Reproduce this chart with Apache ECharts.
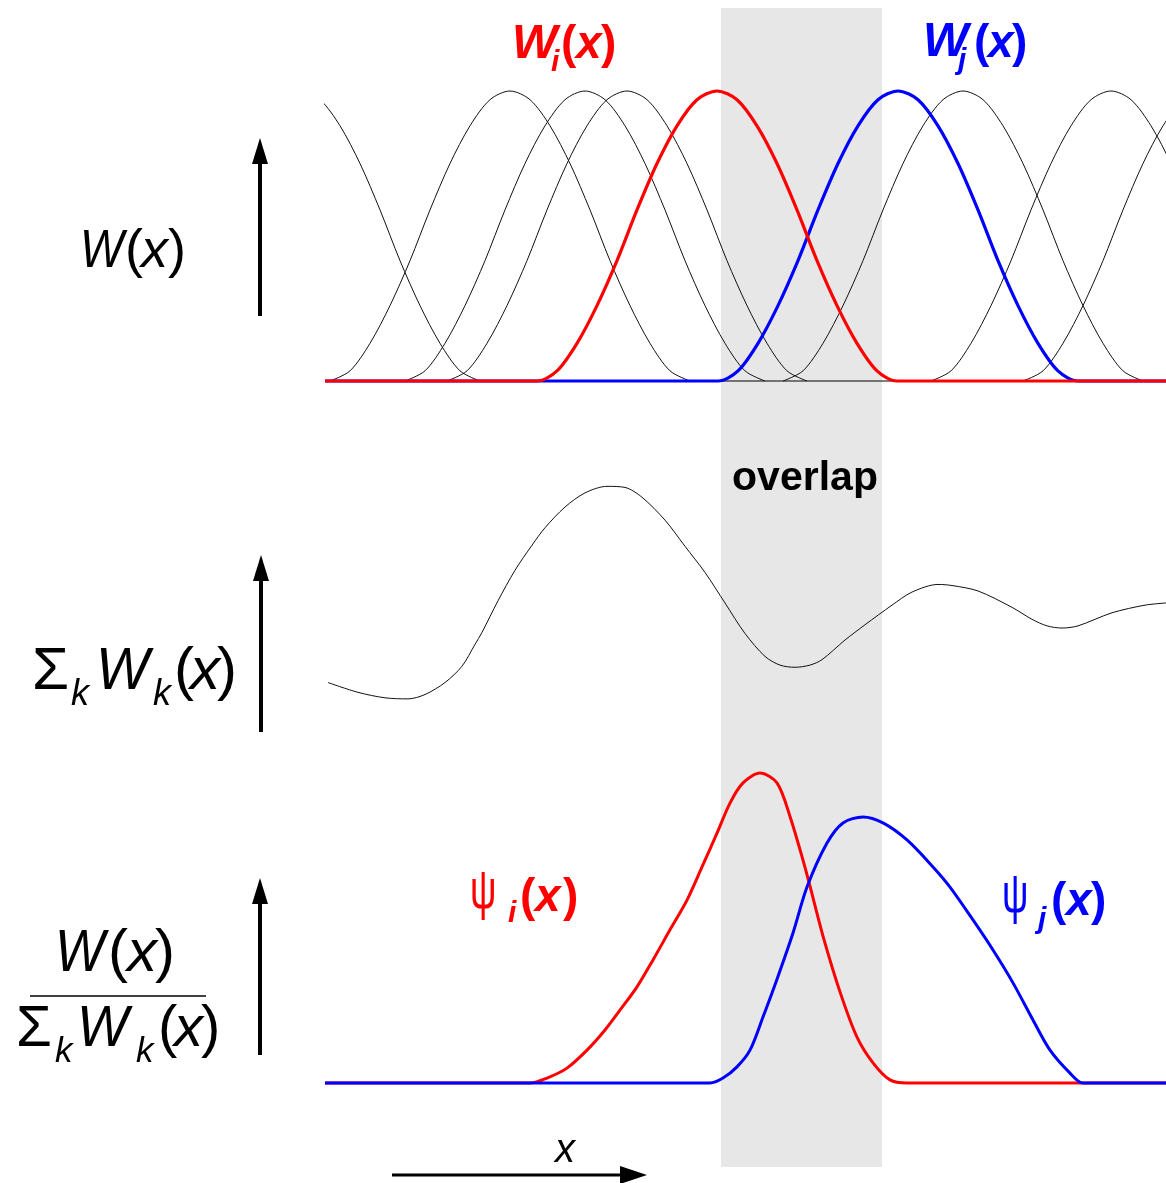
<!DOCTYPE html>
<html>
<head>
<meta charset="utf-8">
<script src="https://cdn.jsdelivr.net/npm/echarts@6/dist/echarts.min.js"></script>
<style>html,body{margin:0;padding:0;background:#fff}#c{width:1166px;height:1183px}</style>
</head>
<body>
<div id="c"></div>
<script>
// x values: horizontal position (0 = left edge of curves), y values: curve heights
const overlapRange = [396, 557];

// top panel: individual weight functions W_k(x)
const curveA = [[-205,0],[-185,0.035],[-165,0.13],[-145,0.26],[-125,0.415],[-105,0.59],[-85,0.75],[-65,0.88],[-45,0.97],[-25,1],[-5,0.97],[15,0.88],[35,0.75],[55,0.59],[75,0.415],[95,0.26],[115,0.13],[135,0.035],[155,0]];
const curveB = [[5,0],[25,0.035],[45,0.13],[65,0.26],[85,0.415],[105,0.59],[125,0.75],[145,0.88],[165,0.97],[185,1],[205,0.97],[225,0.88],[245,0.75],[265,0.59],[285,0.415],[305,0.26],[325,0.13],[345,0.035],[365,0]];
const curveC = [[80,0],[100,0.035],[120,0.13],[140,0.26],[160,0.415],[180,0.59],[200,0.75],[220,0.88],[240,0.97],[260,1],[280,0.97],[300,0.88],[320,0.75],[340,0.59],[360,0.415],[380,0.26],[400,0.13],[420,0.035],[440,0]];
const curveD = [[122,0],[142,0.035],[162,0.13],[182,0.26],[202,0.415],[222,0.59],[242,0.75],[262,0.88],[282,0.97],[302,1],[322,0.97],[342,0.88],[362,0.75],[382,0.59],[402,0.415],[422,0.26],[442,0.13],[462,0.035],[482,0]];
const curveE = [[458,0],[478,0.035],[498,0.13],[518,0.26],[538,0.415],[558,0.59],[578,0.75],[598,0.88],[618,0.97],[638,1],[658,0.97],[678,0.88],[698,0.75],[718,0.59],[738,0.415],[758,0.26],[778,0.13],[798,0.035],[818,0]];
const curveF = [[606,0],[626,0.035],[646,0.13],[666,0.26],[686,0.415],[706,0.59],[726,0.75],[746,0.88],[766,0.97],[786,1],[806,0.97],[826,0.88],[846,0.75],[866,0.59],[886,0.415],[906,0.26],[926,0.13],[946,0.035],[966,0]];
const curveG = [[698,0],[718,0.035],[738,0.13],[758,0.26],[778,0.415],[798,0.59],[818,0.75],[838,0.88],[858,0.97],[878,1],[898,0.97],[918,0.88]];
const curveWi = [[0,0],[212,0],[232,0.035],[252,0.13],[272,0.26],[292,0.415],[312,0.59],[332,0.75],[352,0.88],[372,0.97],[392,1],[412,0.97],[432,0.88],[452,0.75],[472,0.59],[492,0.415],[512,0.26],[532,0.13],[552,0.035],[572,0],[841,0]];
const curveWj = [[0,0],[393,0],[413,0.035],[433,0.13],[453,0.26],[473,0.415],[493,0.59],[513,0.75],[533,0.88],[553,0.97],[573,1],[593,0.97],[613,0.88],[633,0.75],[653,0.59],[673,0.415],[693,0.26],[713,0.13],[733,0.035],[753,0],[841,0]];
const topBaseline = [[0,0],[841,0]];

// middle panel: sum of weights
const sumW = [[3,0.94],[33,0.85],[60,0.80],[83,0.79],[100,0.83],[120,0.94],[137,1.09],[150,1.29],[157,1.40],[173,1.69],[190,1.97],[207,2.20],[220,2.36],[240,2.55],[260,2.68],[282,2.74],[300,2.73],[317,2.64],[340,2.43],[360,2.19],[380,1.95],[400,1.67],[420,1.39],[440,1.18],[455,1.10],[470,1.08],[485,1.10],[497,1.15],[520,1.33],[540,1.47],[567,1.65],[587,1.77],[613,1.84],[627,1.83],[653,1.78],[687,1.63],[707,1.52],[722,1.46],[737,1.44],[753,1.46],[787,1.58],[820,1.65],[841,1.67]];

// bottom panel: normalised weights psi
const psiI = [[0,0],[205,0],[222,0.016],[242,0.048],[262,0.106],[280,0.171],[295,0.235],[312,0.31],[328,0.397],[345,0.494],[362,0.59],[377,0.697],[392,0.806],[405,0.903],[418,0.968],[435,1.0],[452,0.968],[465,0.86],[478,0.719],[485,0.635],[498,0.474],[515,0.294],[532,0.148],[548,0.065],[565,0.01],[582,0],[841,0]];
const psiJ = [[0,0],[385,0],[398,0.016],[412,0.052],[425,0.106],[438,0.213],[452,0.335],[468,0.484],[482,0.632],[502,0.774],[518,0.839],[538,0.858],[558,0.839],[582,0.784],[608,0.697],[625,0.632],[648,0.526],[668,0.429],[688,0.323],[708,0.203],[725,0.106],[745,0.032],[758,0],[841,0]];

const chart = echarts.init(document.getElementById('c'), null, {renderer: 'canvas'});

function tx(x, base, s, size, o) {
  o = o || {};
  return {
    type: 'text', x: x, y: base - 0.35 * size, scaleX: o.sx || 1, z: 50,
    style: {
      text: s, fontSize: size, fontFamily: o.ff || 'Liberation Sans',
      fontStyle: o.it ? 'italic' : 'normal', fontWeight: o.b ? 'bold' : 'normal',
      fill: o.c || '#000', align: o.al || 'left', verticalAlign: 'middle',
      textAlign: o.al || 'left', textVerticalAlign: 'middle'
    }
  };
}
function vArrow(x, yb, yt) {
  return [
    {type: 'line', z: 50, shape: {x1: x, y1: yb, x2: x, y2: yt + 20}, style: {stroke: '#000', lineWidth: 4}},
    {type: 'polygon', z: 50, shape: {points: [[x, yt], [x - 8, yt + 26], [x + 8, yt + 26]]}, style: {fill: '#000'}}
  ];
}
const RED = '#ff0000', BLUE = '#0000ff';
const graphics = [].concat(
  vArrow(260, 316, 138), vArrow(261, 732, 555), vArrow(260, 1055, 878),
  [
    {type: 'line', z: 50, shape: {x1: 392, y1: 1175, x2: 625, y2: 1175}, style: {stroke: '#000', lineWidth: 3}},
    {type: 'polygon', z: 50, shape: {points: [[647, 1175], [620, 1166], [620, 1184]]}, style: {fill: '#000'}},
    {type: 'line', z: 50, shape: {x1: 30, y1: 996, x2: 206, y2: 996}, style: {stroke: '#000', lineWidth: 1.5}},
    // W(x)
    tx(80, 271, 'W', 54, {it: 1, sx: 0.86}), tx(125, 271, '(', 54), tx(141, 271, 'x', 54, {it: 1}), tx(168, 271, ')', 54),
    // Sigma_k W_k(x)
    tx(32, 693, 'Σ', 60), tx(71, 708, 'k', 36, {it: 1}), tx(96, 693, 'W', 60, {it: 1, sx: 0.94}), tx(153, 708, 'k', 36, {it: 1}),
    tx(174, 693, '(', 60), tx(190, 693, 'x', 60, {it: 1}), tx(217, 693, ')', 60),
    // numerator
    tx(55, 975, 'W', 60, {it: 1, sx: 0.88}), tx(108, 975, '(', 60), tx(127, 975, 'x', 60, {it: 1}), tx(155, 975, ')', 60),
    // denominator
    tx(16, 1050, 'Σ', 58), tx(55, 1065, 'k', 35, {it: 1}), tx(77, 1050, 'W', 58, {it: 1, sx: 0.94}), tx(136, 1065, 'k', 35, {it: 1}),
    tx(158, 1050, '(', 58), tx(174, 1050, 'x', 58, {it: 1}), tx(201, 1050, ')', 58),
    // W_i(x)
    tx(512, 62, 'W', 48, {it: 1, b: 1, c: RED}), tx(551, 73, 'i', 30, {it: 1, b: 1, c: RED}),
    tx(561, 61, '(', 46, {b: 1, c: RED}), tx(576, 61, 'x', 46, {it: 1, b: 1, c: RED}), tx(601, 61, ')', 46, {b: 1, c: RED}),
    // W_j(x)
    tx(923, 60, 'W', 48, {it: 1, b: 1, c: BLUE}), tx(958, 71, 'j', 30, {it: 1, b: 1, c: BLUE}),
    tx(974, 60, '(', 46, {b: 1, c: BLUE}), tx(988, 60, 'x', 46, {it: 1, b: 1, c: BLUE}), tx(1012, 60, ')', 46, {b: 1, c: BLUE}),
    // psi_i(x)
    tx(470, 912, 'ψ', 56, {c: RED, sx: 0.66}), tx(508, 924, 'i', 30, {it: 1, b: 1, c: RED}),
    tx(520, 914, '(', 46, {b: 1, c: RED}), tx(535, 914, 'x', 46, {it: 1, b: 1, c: RED}), tx(563, 914, ')', 46, {b: 1, c: RED}),
    // psi_j(x)
    tx(1002, 916, 'ψ', 56, {c: BLUE, sx: 0.66}), tx(1038, 930, 'j', 30, {it: 1, b: 1, c: BLUE}),
    tx(1051, 918, '(', 46, {b: 1, c: BLUE}), tx(1066, 918, 'x', 46, {it: 1, b: 1, c: BLUE}), tx(1091, 918, ')', 46, {b: 1, c: BLUE}),
    // overlap, x
    tx(805, 493, 'overlap', 41, {b: 1, al: 'center'}),
    tx(555, 1165, 'x', 40, {it: 1})
  ]
);

const grids = [
  {left: 325, right: 0, top: 62, height: 348},   // top: 0 -> 381, 1 -> 91
  {left: 325, right: 0, top: 458, height: 327},  // middle: 0 -> 785
  {left: 325, right: 0, top: 742, height: 372},  // bottom: 0 -> 1083, 1 -> 773
  {left: 325, right: 0, top: 8, height: 1159}    // overlap band
];
const xAxes = grids.map((g, i) => ({type: 'value', gridIndex: i, min: 0, max: 841, show: false}));
const yAxes = [
  {type: 'value', gridIndex: 0, min: -0.1, max: 1.1, show: false},
  {type: 'value', gridIndex: 1, min: 0, max: 3, show: false},
  {type: 'value', gridIndex: 2, min: -0.1, max: 1.1, show: false},
  {type: 'value', gridIndex: 3, min: 0, max: 1, show: false}
];
function line(data, gi, color, width, z) {
  return {
    type: 'line', xAxisIndex: gi, yAxisIndex: gi, data: data, smooth: 0.3, symbol: 'none', showSymbol: false,
    lineStyle: {color: color, width: width}, itemStyle: {color: color}, z: z || 2, silent: true, animation: false
  };
}
const series = [
  {
    type: 'line', xAxisIndex: 3, yAxisIndex: 3, data: [[0, 0]], symbol: 'none', lineStyle: {opacity: 0}, z: 0, silent: true,
    markArea: {silent: true, itemStyle: {color: '#e7e7e7'}, data: [[{xAxis: overlapRange[0]}, {xAxis: overlapRange[1]}]]}
  },
  line(topBaseline, 0, '#000', 1.2),
  line(curveA, 0, '#111', 1), line(curveB, 0, '#111', 1), line(curveC, 0, '#111', 1), line(curveD, 0, '#111', 1),
  line(curveE, 0, '#111', 1), line(curveF, 0, '#111', 1), line(curveG, 0, '#111', 1),
  line(curveWj, 0, BLUE, 3.2, 3), line(curveWi, 0, RED, 3.2, 4),
  line(sumW, 1, '#111', 1),
  line(psiI, 2, RED, 3, 3), line(psiJ, 2, BLUE, 3, 4)
];

chart.setOption({
  animation: false,
  backgroundColor: '#fff',
  grid: grids, xAxis: xAxes, yAxis: yAxes, series: series, graphic: graphics
});
</script>
</body>
</html>
